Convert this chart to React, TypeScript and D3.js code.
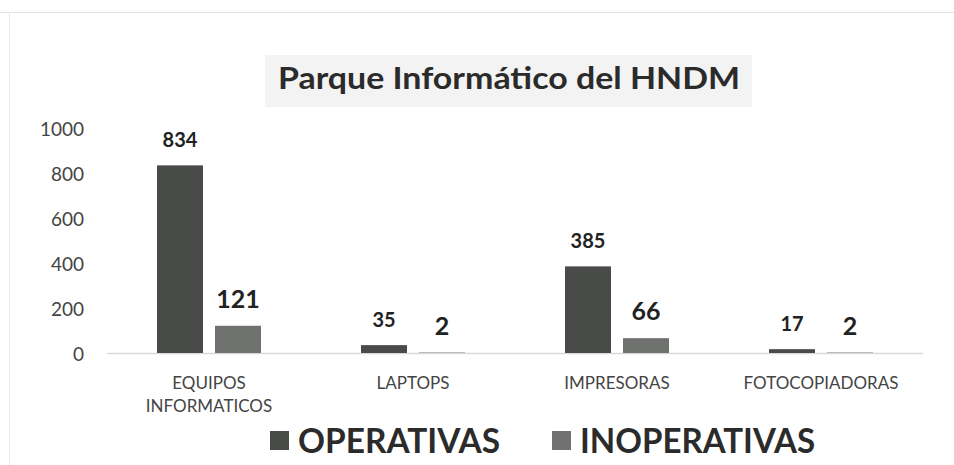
import React from "react";
import * as d3 from "d3";

const categories = ["EQUIPOS INFORMATICOS", "LAPTOPS", "IMPRESORAS", "FOTOCOPIADORAS"];
const categoryLines = [["EQUIPOS", "INFORMATICOS"], ["LAPTOPS"], ["IMPRESORAS"], ["FOTOCOPIADORAS"]];
const seriesNames = ["OPERATIVAS", "INOPERATIVAS"];
const operativas = [834, 35, 385, 17];
const inoperativas = [121, 2, 66, 2];
const yTicks = [0, 200, 400, 600, 800, 1000];
const title = "Parque Informático del HNDM";

const W = 954;
const H = 465;
const colors = ["#494b49", "#707270"];
const labelSize = [20, 25];
const labelGap = [18, 18];

export default function App() {
  const x = d3.scaleBand<string>().domain(categories).range([107, 923]).padding(0);
  const bw = x.bandwidth();
  const xi = d3
    .scaleBand<string>()
    .domain(seriesNames)
    .range([bw / 2 - 52, bw / 2 + 52])
    .paddingInner(12 / 58)
    .paddingOuter(0);
  const y = d3.scaleLinear().domain([0, 1000]).range([353, 128]);
  const series = [operativas, inoperativas];
  const font = "Lato, 'Open Sans', sans-serif";

  return (
    <svg
      width={W}
      height={H}
      style={{ position: "absolute", left: 0, top: 0, background: "#fff" }}
      fontFamily={font}
    >
      <rect x={0} y={0} width={W} height={H} fill="#fff" />
      {/* faint frame */}
      <line x1={0} x2={W} y1={12.5} y2={12.5} stroke="#e4e4e4" />
      <line x1={9.5} x2={9.5} y1={12} y2={H} stroke="#e8e8e8" />
      {/* title */}
      <rect x={265} y={55} width={487} height={52} fill="#f3f3f3" />
      <text
        x={509}
        y={89}
        textAnchor="middle"
        fontSize={31}
        fontWeight={700}
        fill="#2b2b2b"
        textLength={462}
        lengthAdjust="spacingAndGlyphs"
      >
        {title}
      </text>
      {/* y ticks */}
      {yTicks.map((t) => (
        <text
          key={t}
          x={84}
          y={y(t)}
          textAnchor="end"
          dominantBaseline="central"
          fontSize={19}
          fill="#444"
        >
          {t}
        </text>
      ))}
      {/* axis line */}
      <line x1={107} x2={923} y1={y(0) + 0.5} y2={y(0) + 0.5} stroke="#d9d9d9" strokeWidth={1.5} />
      {/* bars */}
      {categories.map((c, i) => (
        <g key={c} transform={`translate(${x(c)},0)`}>
          {seriesNames.map((s, k) => {
            const v = series[k][i];
            const bx = xi(s)!;
            return (
              <g key={s}>
                <rect
                  x={bx}
                  y={y(v)}
                  width={xi.bandwidth()}
                  height={Math.max(y(0) - y(v), 0)}
                  fill={colors[k]}
                />
                <text
                  x={bx + xi.bandwidth() / 2}
                  y={y(v) - labelGap[k]}
                  textAnchor="middle"
                  fontSize={labelSize[k]}
                  fontWeight={700}
                  fill="#222"
                >
                  {v}
                </text>
              </g>
            );
          })}
          {categoryLines[i].map((ln, j) => (
            <text
              key={ln}
              x={bw / 2}
              y={382 + j * 23}
              textAnchor="middle"
              dominantBaseline="central"
              fontSize={17}
              fill="#444"
            >
              {ln}
            </text>
          ))}
        </g>
      ))}
      {/* legend */}
      {seriesNames.map((s, k) => {
        const lx = [270, 552][k];
        const tl = [202, 235][k];
        return (
          <g key={s}>
            <rect x={lx} y={431} width={19} height={19} fill={colors[k]} />
            <text
              x={lx + 28}
              y={453}
              fontSize={35}
              fontWeight={700}
              fill="#2b2b2b"
              textLength={tl}
              lengthAdjust="spacingAndGlyphs"
            >
              {s}
            </text>
          </g>
        );
      })}
    </svg>
  );
}
